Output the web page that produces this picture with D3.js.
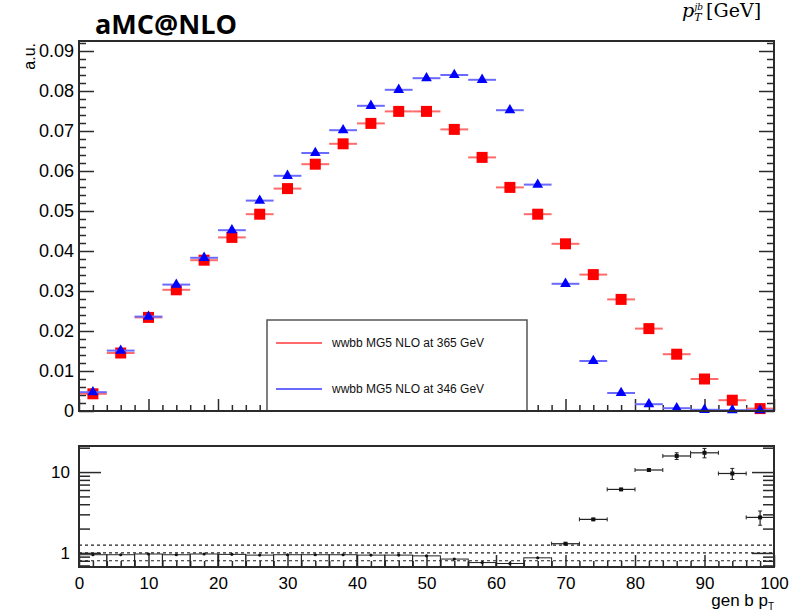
<!DOCTYPE html>
<html>
<head>
<meta charset="utf-8">
<script src="https://cdn.jsdelivr.net/npm/d3@7"></script>
<style>
  html, body { margin: 0; padding: 0; background: #fff; }
  svg { display: block; font-family: "Liberation Sans", Arial, sans-serif; }
  .tick text { fill: #000; }
</style>
</head>
<body>
<svg id="chart" width="795" height="613"></svg>
<script>
/* ── Data ────────────────────────────────────────────────── */

const binCenters = [2, 6, 10, 14, 18, 22, 26, 30, 34, 38, 42, 46, 50,
                    54, 58, 62, 66, 70, 74, 78, 82, 86, 90, 94, 98];
const binHalf = 2;

// 365 GeV (red squares)
const redVals = [0.0043, 0.0145, 0.0234, 0.0303, 0.0377, 0.0434, 0.0492, 0.0556,
                 0.0617, 0.0668, 0.0719, 0.0749, 0.0749, 0.0704, 0.0634, 0.0559,
                 0.0492, 0.0418, 0.0341, 0.0279, 0.0206, 0.0142, 0.0080, 0.0027, 0.0006];
// 346 GeV (blue triangles)
const blueVals = [0.0047, 0.0151, 0.0236, 0.0316, 0.0383, 0.0452, 0.0526, 0.0588,
                  0.0645, 0.0702, 0.0763, 0.0803, 0.0832, 0.0840, 0.0828, 0.0752,
                  0.0566, 0.0318, 0.0125, 0.0045, 0.0017, 0.0007, 0.0003, 0.0002, 0.0002];

// ratio panel (365 / 346)
const ratioVals = [0.95, 0.95, 0.97, 0.95, 0.97, 0.96, 0.94, 0.95, 0.95, 0.95, 0.94, 0.94, 0.92,
                   0.84, 0.76, 0.74, 0.87, 1.30, 2.60, 6.1, 10.6, 15.8, 17.3, 9.6, 2.75];
const ratioErr  = [0.01, 0.01, 0.01, 0.01, 0.01, 0.01, 0.01, 0.01, 0.01, 0.01, 0.01, 0.01, 0.01,
                   0.01, 0.01, 0.01, 0.01, 0.02, 0.05, 0.12, 0.35, 1.5, 2.3, 1.5, 0.55];
const ratioRefLines = [0.8, 1, 1.25];

const yMajor = [0, 0.01, 0.02, 0.03, 0.04, 0.05, 0.06, 0.07, 0.08, 0.09];
const xMajor = [0, 10, 20, 30, 40, 50, 60, 70, 80, 90, 100];
const rMajor = [1, 10];
const rMinor = [0.7, 0.8, 0.9, 2, 3, 4, 5, 6, 7, 8, 9, 20];

const legendLabels = ['wwbb MG5 NLO at 365 GeV', 'wwbb MG5 NLO at 346 GeV'];

/* ── Layout ──────────────────────────────────────────────── */

const svg = d3.select('#chart');
const L = 79, R = 774;
const TOP1 = 41, BOT1 = 411;      // main pad
const TOP2 = 446, BOT2 = 567;     // ratio pad

const RED = '#ff0000', BLUE = '#0000ff';
const RED_BAR = '#ff6a6a', BLUE_BAR = '#6a6aff';
const FRAME = '#2b2b2b';

const x  = d3.scaleLinear().domain([0, 100]).range([L, R]);
const y  = d3.scaleLinear().domain([0, 0.0925]).range([BOT1, TOP1]);
const yr = d3.scaleLog().domain([0.67, 21]).range([BOT2, TOP2]);

const bins = binCenters.map((c, i) => ({
  c, red: redVals[i], blue: blueVals[i], ratio: ratioVals[i], err: ratioErr[i]
}));

/* ── Axes helper ─────────────────────────────────────────── */

function drawAxis(axis, tx, ty, fontSize) {
  const g = svg.append('g')
    .attr('transform', `translate(${tx},${ty})`)
    .call(axis);
  g.select('.domain').remove();
  g.selectAll('.tick line').attr('stroke', FRAME).attr('stroke-width', 1.5);
  g.selectAll('.tick text').attr('font-size', fontSize).attr('font-family', '"Liberation Sans", Arial, sans-serif');
  return g;
}

const yFmt = v => v === 0 ? '0' : v.toFixed(2);
const yMinor = d3.range(0, 0.0921, 0.002).filter(v => Math.abs(v * 100 - Math.round(v * 100)) > 1e-6);
const xMinor = d3.range(0, 100.1, 2).filter(v => v % 10 !== 0);

/* ── Main pad ────────────────────────────────────────────── */

// y axis left (major + minor) and right (ticks only)
drawAxis(d3.axisLeft(y).tickValues(yMajor).tickFormat(yFmt).tickSize(-15).tickPadding(5), L, 0, 18);
drawAxis(d3.axisLeft(y).tickValues(yMinor).tickFormat('').tickSize(-7), L, 0, 18);
drawAxis(d3.axisRight(y).tickValues(yMajor).tickFormat('').tickSize(-15), R, 0, 18);
drawAxis(d3.axisRight(y).tickValues(yMinor).tickFormat('').tickSize(-7), R, 0, 18);

// x axis ticks (no labels on main pad)
drawAxis(d3.axisBottom(x).tickValues(xMajor).tickFormat('').tickSize(-12), 0, BOT1, 17);
drawAxis(d3.axisBottom(x).tickValues(xMinor).tickFormat('').tickSize(-6), 0, BOT1, 17);

// legend box (bottom edge hides behind the axis)
const leg = svg.append('g');
leg.append('rect')
  .attr('x', 267).attr('y', 320)
  .attr('width', 260).attr('height', BOT1 - 320)
  .attr('fill', '#fff')
  .attr('stroke', '#555').attr('stroke-width', 1.5);

legendLabels.forEach((lab, i) => {
  const ly = 343 + i * 46;
  leg.append('line')
    .attr('x1', 276).attr('x2', 322).attr('y1', ly).attr('y2', ly)
    .attr('stroke', i === 0 ? RED_BAR : BLUE_BAR).attr('stroke-width', 1.8);
  leg.append('text')
    .attr('x', 332).attr('y', ly + 4)
    .attr('font-size', 12)
    .attr('fill', '#111')
    .text(lab);
});

// data: red first, then blue on top
const main = svg.append('g');

function drawSeries(key, barColor, markerColor, symbol, size) {
  const g = main.append('g');
  g.selectAll('line.hbar').data(bins).enter().append('line')
    .attr('x1', d => x(d.c - binHalf)).attr('x2', d => x(d.c + binHalf))
    .attr('y1', d => y(d[key])).attr('y2', d => y(d[key]))
    .attr('stroke', barColor).attr('stroke-width', 2);
  g.selectAll('path.mk').data(bins).enter().append('path')
    .attr('transform', d => `translate(${x(d.c)},${y(d[key])})`)
    .attr('d', d3.symbol().type(symbol).size(size)())
    .attr('fill', markerColor);
}

drawSeries('red', RED_BAR, RED, d3.symbolSquare, 121);
drawSeries('blue', BLUE_BAR, BLUE, d3.symbolTriangle, 50);

// frame
svg.append('rect')
  .attr('x', L).attr('y', TOP1).attr('width', R - L).attr('height', BOT1 - TOP1)
  .attr('fill', 'none').attr('stroke', FRAME).attr('stroke-width', 2);

/* ── Ratio pad ───────────────────────────────────────────── */

drawAxis(d3.axisLeft(yr).tickValues(rMajor).tickFormat(d3.format('d')).tickSize(-22).tickPadding(9), L, 0, 17);
drawAxis(d3.axisLeft(yr).tickValues(rMinor).tickFormat('').tickSize(-11), L, 0, 17);
drawAxis(d3.axisRight(yr).tickValues(rMajor).tickFormat('').tickSize(-22), R, 0, 17);
drawAxis(d3.axisRight(yr).tickValues(rMinor).tickFormat('').tickSize(-11), R, 0, 17);

drawAxis(d3.axisBottom(x).tickValues(xMajor).tickFormat(d3.format('d')).tickSize(-12).tickPadding(10), 0, BOT2, 17);
drawAxis(d3.axisBottom(x).tickValues(xMinor).tickFormat('').tickSize(-6), 0, BOT2, 17);

// reference dashed lines
svg.append('g').selectAll('line').data(ratioRefLines).enter().append('line')
  .attr('x1', L).attr('x2', R)
  .attr('y1', d => yr(d)).attr('y2', d => yr(d))
  .attr('stroke', '#222').attr('stroke-width', 1.2)
  .attr('stroke-dasharray', '3,3');

const rg = svg.append('g');
const lowBins  = bins.filter(d => d.c < 68);
const tailBins = bins.filter(d => d.c > 68);

// low bins: histogram boxes
rg.selectAll('rect.hbox').data(lowBins).enter().append('rect')
  .attr('x', d => x(d.c - binHalf))
  .attr('y', d => yr(d.ratio))
  .attr('width', d => x(d.c + binHalf) - x(d.c - binHalf))
  .attr('height', d => BOT2 - yr(d.ratio))
  .attr('fill', 'none').attr('stroke', '#222').attr('stroke-width', 1);
rg.selectAll('circle.hdot').data(lowBins).enter().append('circle')
  .attr('cx', d => x(d.c)).attr('cy', d => yr(d.ratio)).attr('r', 1.6)
  .attr('fill', '#111');

// tail bins: points with x and y error bars
const tail = rg.selectAll('g.pt').data(tailBins).enter().append('g');
tail.append('line')
  .attr('x1', d => x(d.c - binHalf)).attr('x2', d => x(d.c + binHalf))
  .attr('y1', d => yr(d.ratio)).attr('y2', d => yr(d.ratio))
  .attr('stroke', '#222').attr('stroke-width', 1.2);
tail.append('line')
  .attr('x1', d => x(d.c)).attr('x2', d => x(d.c))
  .attr('y1', d => yr(d.ratio - d.err)).attr('y2', d => yr(d.ratio + d.err))
  .attr('stroke', '#222').attr('stroke-width', 1.2);
[-1, 1].forEach(s => {
  tail.append('line')
    .attr('x1', d => x(d.c + s * binHalf)).attr('x2', d => x(d.c + s * binHalf))
    .attr('y1', d => yr(d.ratio) - 2).attr('y2', d => yr(d.ratio) + 2)
    .attr('stroke', '#222').attr('stroke-width', 1);
  tail.append('line')
    .attr('x1', d => x(d.c) - 2).attr('x2', d => x(d.c) + 2)
    .attr('y1', d => yr(d.ratio + s * d.err)).attr('y2', d => yr(d.ratio + s * d.err))
    .attr('stroke', '#222').attr('stroke-width', 1);
});
tail.append('rect')
  .attr('x', d => x(d.c) - 2).attr('y', d => yr(d.ratio) - 2)
  .attr('width', 4).attr('height', 4).attr('fill', '#111');

svg.append('rect')
  .attr('x', L).attr('y', TOP2).attr('width', R - L).attr('height', BOT2 - TOP2)
  .attr('fill', 'none').attr('stroke', FRAME).attr('stroke-width', 2);

/* ── Titles ──────────────────────────────────────────────── */

svg.append('text')
  .attr('x', 95).attr('y', 34)
  .attr('font-family', '"Open Sans", sans-serif')
  .attr('font-weight', 'bold')
  .attr('font-size', 27)
  .text('aMC@NLO');

svg.append('text')
  .attr('transform', 'translate(35,43) rotate(-90)')
  .attr('text-anchor', 'end')
  .attr('font-size', 16)
  .text('a.u.');

// unit label, top right
const unit = svg.append('text')
  .attr('x', 682).attr('y', 17)
  .attr('font-family', '"DejaVu Serif", "Liberation Serif", serif')
  .attr('font-size', 19);
unit.append('tspan').attr('font-style', 'italic').text('p');
unit.append('tspan').attr('font-style', 'italic').attr('font-size', 11).attr('dy', 4).text('T');
unit.append('tspan').attr('font-style', 'italic').attr('font-size', 9).attr('dx', -7).attr('dy', -11).text('jb');
unit.append('tspan').attr('dx', 3).attr('dy', 7).text('[GeV]');

svg.append('text')
  .attr('x', 768).attr('y', 606)
  .attr('text-anchor', 'end')
  .attr('font-size', 17)
  .text('gen b p');
svg.append('text')
  .attr('x', 768).attr('y', 610)
  .attr('font-size', 10)
  .text('T');
</script>
</body>
</html>
